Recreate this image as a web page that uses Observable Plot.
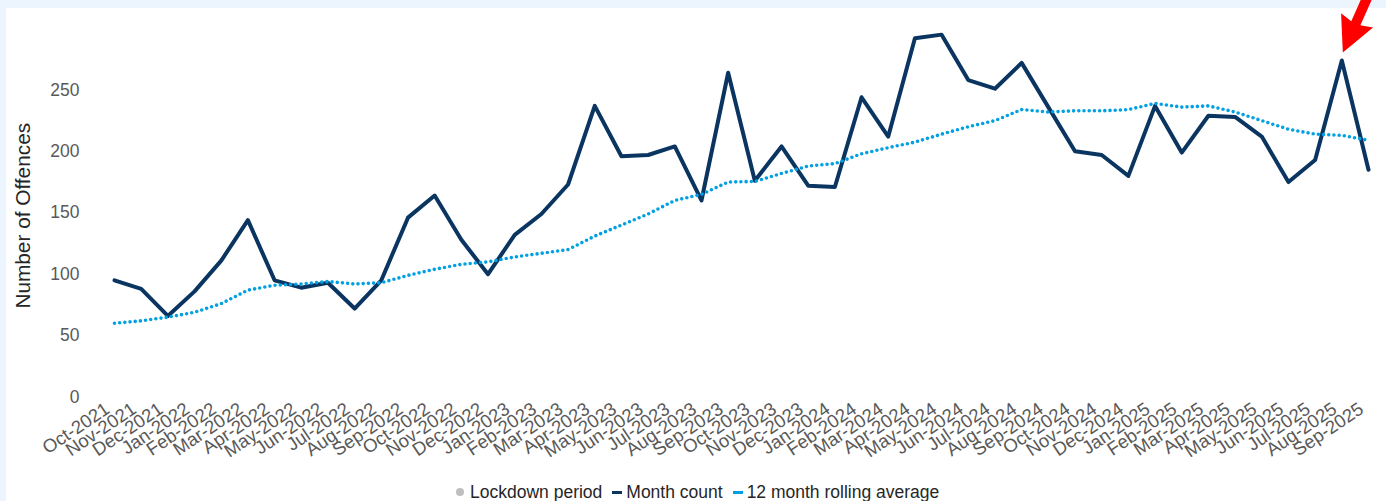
<!DOCTYPE html>
<html>
<head>
<meta charset="utf-8">
<script src="https://cdn.jsdelivr.net/npm/d3@7"></script>
<script src="https://cdn.jsdelivr.net/npm/@observablehq/plot@0.6"></script>
<style>
  html, body { margin: 0; padding: 0; }
  body {
    width: 1386px; height: 501px; position: relative; overflow: hidden;
    background: #ecf4fd;
    font-family: "Liberation Sans", Arial, sans-serif;
  }
  #panel { position: absolute; left: 6px; top: 8px; right: 0; bottom: 0; background: #ffffff; }
  #chart { position: absolute; left: 0; top: 0; }
  #legend {
    position: absolute; top: 482px; left: 456px;
    display: flex; align-items: center;
    font-size: 17.5px; color: #262626; line-height: 20px; white-space: nowrap;
  }
  .item { display: flex; align-items: center; margin-right: 10px; }
  .dot { width: 8px; height: 8px; border-radius: 50%; background: #bfbfbf; margin-right: 6px; }
  .dash { width: 10px; height: 3px; margin-right: 4px; }
</style>
</head>
<body>
<div id="panel"></div>
<div id="chart"></div>
<div id="legend"></div>
<script>
// Monthly offence counts, Oct 2021 to Sep 2025
const months = [
  "Oct-2021","Nov-2021","Dec-2021",
  "Jan-2022","Feb-2022","Mar-2022","Apr-2022","May-2022","Jun-2022","Jul-2022","Aug-2022","Sep-2022","Oct-2022","Nov-2022","Dec-2022",
  "Jan-2023","Feb-2023","Mar-2023","Apr-2023","May-2023","Jun-2023","Jul-2023","Aug-2023","Sep-2023","Oct-2023","Nov-2023","Dec-2023",
  "Jan-2024","Feb-2024","Mar-2024","Apr-2024","May-2024","Jun-2024","Jul-2024","Aug-2024","Sep-2024","Oct-2024","Nov-2024","Dec-2024",
  "Jan-2025","Feb-2025","Mar-2025","Apr-2025","May-2025","Jun-2025","Jul-2025","Aug-2025","Sep-2025"
];

const monthCount = [
  95, 88, 66,
  86, 111, 144, 95, 89, 93, 72, 95, 146, 164, 128, 100,
  132, 149, 173, 237, 196, 197, 204, 160, 264, 176, 204, 172,
  171, 244, 212, 292, 295, 258, 251, 272, 236, 200, 197, 180,
  237, 199, 229, 228, 212, 175, 193, 274, 185
];

const rollingAvg = [
  60, 62, 65,
  69, 76, 87, 91, 92, 94, 92, 93, 99, 104, 108, 110,
  114, 117, 120, 131, 140, 149, 160, 165, 175, 175.5, 182, 188,
  190, 198, 203, 207.5, 214, 220, 225, 234, 232, 233, 233, 234,
  239, 236, 237, 232, 225, 218, 214, 213, 209
];

const yTicks = [0, 50, 100, 150, 200, 250];
const yTitle = "Number of Offences";
const highlightMonth = "Aug-2025";

const legendItems = [
  {label: "Lockdown period", kind: "dot", color: "#bfbfbf"},
  {label: "Month count", kind: "dash", color: "#0b3561"},
  {label: "12 month rolling average", kind: "dash", color: "#00a0e3"}
];

const data = months.map((month, i) => ({month, count: monthCount[i], avg: rollingAvg[i]}));
const highlight = data.filter(d => d.month === highlightMonth);

// Filled block arrow drawn along the vector, tip at the far end
const blockArrow = {
  draw(context, l) {
    const head = 35, half = 17.5, shaft = 5;
    context.moveTo(0, -l);
    context.lineTo(half, -l + head);
    context.lineTo(shaft, -l + head - 3);
    context.lineTo(shaft, 0);
    context.lineTo(-shaft, 0);
    context.lineTo(-shaft, -l + head - 3);
    context.lineTo(-half, -l + head);
    context.closePath();
  }
};

const chart = Plot.plot({
  width: 1386,
  height: 460,
  marginLeft: 114,
  marginRight: 18,
  marginTop: 28,
  marginBottom: 63.5,
  style: {
    background: "transparent",
    overflow: "visible",
    fontFamily: "'Liberation Sans', Arial, sans-serif",
    fontSize: "17.5px",
    color: "#595959"
  },
  x: {type: "point", domain: months, padding: 0},
  y: {domain: [0, 300]},
  marks: [
    Plot.axisY({ticks: yTicks, tickSize: 0, tickPadding: 35, label: null, fill: "#595959"}),
    Plot.axisX({
      tickSize: 0, tickPadding: 10, tickRotate: -34, dx: -7,
      label: null, fill: "#595959", fontSize: 18.5
    }),
    Plot.text([yTitle], {
      frameAnchor: "left", rotate: -90, dx: -91, dy: 3,
      fontSize: 20.8, fill: "#262626", textAnchor: "middle"
    }),
    Plot.line(data, {x: "month", y: "count", stroke: "#0b3561", strokeWidth: 4, strokeLinejoin: "round"}),
    Plot.line(data, {
      x: "month", y: "avg", stroke: "#00a0e3", strokeWidth: 3.6,
      strokeDasharray: "0 5.2", strokeLinecap: "round"
    }),
    Plot.vector(highlight, {
      x: "month", y: "count", length: 85, rotate: 204, anchor: "end",
      shape: blockArrow, fill: "#ff0000", stroke: "none", dx: 1, dy: -8
    })
  ]
});
document.getElementById("chart").appendChild(chart);

// Legend below the chart
const legend = d3.select("#legend");
for (const item of legendItems) {
  const el = legend.append("div").attr("class", "item");
  el.append("div").attr("class", item.kind).style("background", item.color);
  el.append("span").text(item.label);
}
</script>
</body>
</html>
